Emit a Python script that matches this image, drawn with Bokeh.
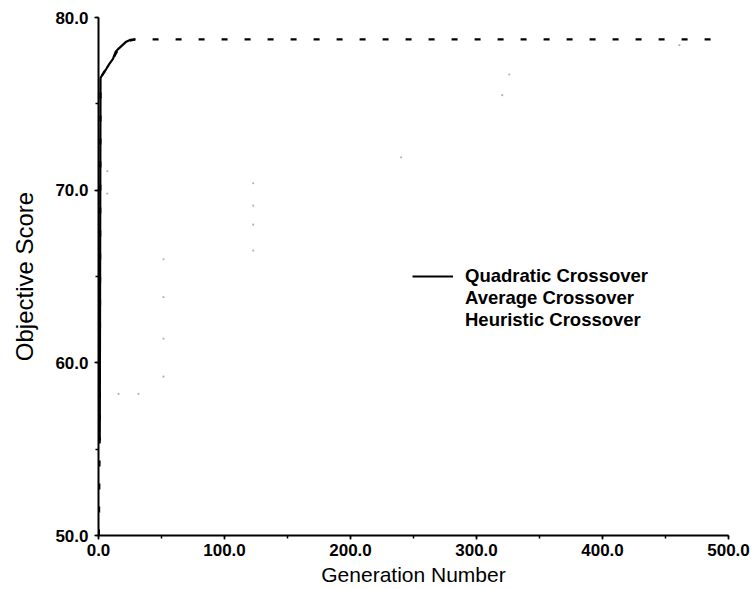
from bokeh.plotting import figure
from bokeh.models import (SingleIntervalTicker, PrintfTickFormatter, Legend,
                          LegendItem, Range1d)
from bokeh.embed import file_html
from bokeh.resources import INLINE

# ---- data ----
quad_x = [1.0, 1.6, 4.0, 6.0, 8.5, 11.5, 13.5, 16.0, 19.0, 22.0, 25.0, 29.0]
quad_y = [55.5, 76.5, 76.8, 77.0, 77.3, 77.6, 78.0, 78.2, 78.4, 78.6, 78.7, 78.73]

avg_x = [0.3, 1.0, 1.6, 6.0, 11.5, 16.0, 22.0, 29.0, 488.0]
avg_y = [50.0, 56.0, 76.5, 77.0, 77.6, 78.2, 78.6, 78.73, 78.73]

heur_x = [7.0, 7.0, 15.9, 31.7, 51.6, 51.6, 51.6, 51.6, 122.8, 122.8, 122.8,
          122.8, 240.2, 320.4, 326.0, 461.0]
heur_y = [71.1, 69.8, 58.2, 58.2, 59.2, 61.4, 63.8, 66.0, 66.5, 68.0, 69.1,
          70.4, 71.9, 75.5, 76.7, 78.4]

series_labels = ["Quadratic Crossover", "Average Crossover", "Heuristic Crossover"]
x_title = "Generation Number"
y_title = "Objective Score"

FONT = "Liberation Sans"

p = figure(width=750, height=588, x_range=Range1d(0, 500), y_range=Range1d(50, 80),
           output_backend="svg", toolbar_location=None,
           min_border_left=98, min_border_right=22, min_border_top=17,
           min_border_bottom=52)
p.outline_line_color = None
p.grid.visible = False
p.background_fill_color = "white"
p.border_fill_color = "white"

p.xaxis.ticker = SingleIntervalTicker(interval=100, num_minor_ticks=2)
p.yaxis.ticker = SingleIntervalTicker(interval=10, num_minor_ticks=2)
p.xaxis.formatter = PrintfTickFormatter(format="%.1f")
p.yaxis.formatter = PrintfTickFormatter(format="%.1f")

for ax in (p.xaxis[0], p.yaxis[0]):
    ax.axis_line_width = 2
    ax.axis_line_color = "black"
    ax.major_tick_line_width = 1.5
    ax.major_tick_line_color = "black"
    ax.major_tick_out = 4
    ax.major_tick_in = 0
    ax.minor_tick_line_color = "black"
    ax.minor_tick_line_width = 1.5
    ax.minor_tick_out = 3
    ax.minor_tick_in = 0
    ax.major_label_text_font = FONT
    ax.major_label_text_font_style = "bold"
    ax.major_label_text_font_size = "17px"
    ax.major_label_text_color = "black"
    ax.axis_label_text_font = FONT
    ax.axis_label_text_font_style = "normal"
    ax.axis_label_text_color = "black"

p.xaxis.axis_label = x_title
p.xaxis.axis_label_text_font_size = "21px"
p.xaxis.major_label_standoff = 4
p.xaxis.axis_label_standoff = 4

p.yaxis.axis_label = y_title
p.yaxis.axis_label_text_font_size = "24px"
p.yaxis.major_label_standoff = 6
p.yaxis.axis_label_standoff = 14

r_heur = p.scatter(heur_x, heur_y, marker="circle", size=2.2,
                   fill_color="#b4b4b4", line_color=None)
r_avg = p.line(avg_x, avg_y, line_color="black", line_width=2.2, line_dash="6 17")
r_quad = p.line(quad_x, quad_y, line_color="black", line_width=2.2)

# legend key samples (the reference key for the average series is blank)
key_avg = p.line(x=[], y=[], line_color="black", line_alpha=0.0)
key_heur = p.line(x=[], y=[], line_color="#b8b8b8", line_width=1.5, line_dash="2 6")

legend = Legend(items=[LegendItem(label=series_labels[0], renderers=[r_quad]),
                       LegendItem(label=series_labels[1], renderers=[key_avg]),
                       LegendItem(label=series_labels[2], renderers=[key_heur])],
                location=(314, 204))
legend.padding = 0
legend.margin = 0
legend.spacing = 0
legend.label_height = 22
legend.glyph_height = 22
legend.glyph_width = 41
legend.label_standoff = 12
legend.border_line_alpha = 0
legend.background_fill_alpha = 0
legend.label_text_font = FONT
legend.label_text_font_style = "bold"
legend.label_text_font_size = "18.5px"
legend.label_text_color = "black"
p.add_layout(legend)

open("out.html", "w").write(file_html(p, INLINE))
